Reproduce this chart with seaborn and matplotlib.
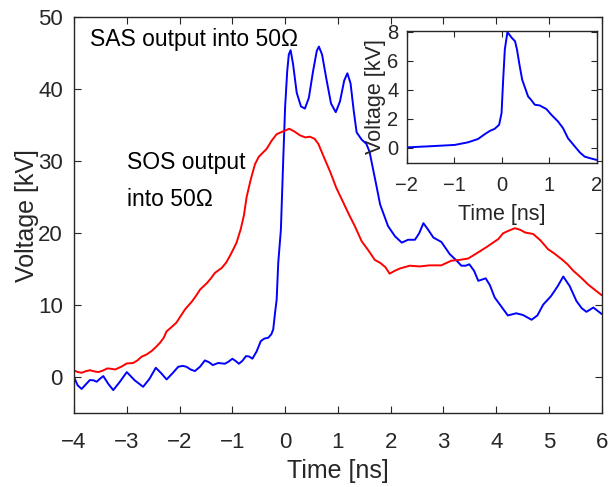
import numpy as np
import pandas as pd
import seaborn as sns
import matplotlib.pyplot as plt

# SAS output (blue), main plot
sas_t = [-4.0, -3.93, -3.855, -3.78, -3.70, -3.63, -3.57, -3.51, -3.445, -3.35, -3.256, -3.13,
         -3.0, -2.85, -2.69, -2.57, -2.45, -2.35, -2.245, -2.13, -2.025, -1.94, -1.87, -1.79,
         -1.71, -1.61, -1.52, -1.44, -1.37, -1.27, -1.14, -1.07, -1.0, -0.94, -0.875, -0.81,
         -0.74, -0.68, -0.62, -0.54, -0.46, -0.39, -0.32, -0.26, -0.225, -0.19, -0.16, -0.13,
         -0.08, -0.035, 0.0, 0.04, 0.07, 0.104, 0.15, 0.22, 0.3, 0.375, 0.45, 0.53, 0.6,
         0.64, 0.7, 0.78, 0.87, 0.96, 1.04, 1.12, 1.18, 1.24, 1.3, 1.355, 1.45, 1.54, 1.6,
         1.73, 1.8, 1.95, 2.08, 2.21, 2.33, 2.46, 2.54, 2.62, 2.7, 2.81, 2.96, 3.12, 3.25,
         3.34, 3.42, 3.49, 3.58, 3.66, 3.8, 3.88, 3.97, 4.1, 4.22, 4.38, 4.51, 4.67, 4.78,
         4.89, 5.04, 5.16, 5.27, 5.39, 5.52, 5.62, 5.71, 5.84, 5.98, 6.0]
sas_v = [0.05, -1.1, -1.6, -1.0, -0.37, -0.4, -0.6, -0.2, 0.19, -0.9, -1.76, -0.6,
         0.74, -0.4, -1.3, -0.2, 1.34, 0.6, -0.28, 0.6, 1.48, 1.6, 1.48, 1.1,
         0.88, 1.5, 2.36, 2.1, 1.71, 2.0, 1.9, 2.2, 2.59, 2.3, 1.9, 2.3,
         2.96, 2.9, 2.6, 3.6, 5.05, 5.4, 5.5, 6.0, 6.67, 9.0, 10.8, 15.9,
         20.5, 30.3, 37.5, 42.5, 44.8, 45.4, 43.5, 39.5, 37.6, 37.3, 38.8, 42.5, 45.3,
         45.9, 44.8, 41.5, 38.0, 36.8, 38.3, 41.2, 42.2, 40.8, 37.0, 34.0, 33.0, 32.4, 31.3,
         26.6, 24.0, 21.0, 19.6, 18.7, 19.1, 19.1, 20.0, 21.4, 20.6, 19.4, 18.8, 17.1, 16.2,
         15.5, 15.5, 15.7, 14.8, 13.4, 13.75, 12.8, 11.1, 9.8, 8.6, 8.9, 8.65, 8.0, 8.6,
         10.1, 11.3, 12.6, 14.0, 12.7, 10.6, 9.6, 9.1, 9.7, 8.9, 8.8]

# SOS output (red), main plot
sos_t = [-4.0, -3.93, -3.855, -3.78, -3.70, -3.62, -3.54, -3.45, -3.37, -3.30, -3.22, -3.1,
         -3.0, -2.88, -2.8, -2.72, -2.62, -2.53, -2.45, -2.37, -2.3, -2.245, -2.18, -2.06,
         -1.98, -1.9, -1.77, -1.69, -1.61, -1.48, -1.4, -1.33, -1.2, -1.12, -1.05, -0.98,
         -0.92, -0.84, -0.78, -0.73, -0.65, -0.57, -0.5, -0.42, -0.35, -0.26, -0.16, -0.05,
         0.08, 0.18, 0.28, 0.38, 0.47, 0.56, 0.63, 0.75, 0.85, 0.97, 1.1, 1.21, 1.32, 1.45,
         1.58, 1.7, 1.8, 1.9, 1.98, 2.08, 2.17, 2.36, 2.55, 2.74, 2.96, 3.15, 3.3, 3.47,
         3.58, 3.69, 3.82, 3.94, 4.04, 4.13, 4.25, 4.35, 4.45, 4.55, 4.7, 4.84, 4.98, 5.1,
         5.24, 5.35, 5.46, 5.6, 5.74, 5.86, 6.0]
sos_v = [0.97, 0.75, 0.65, 0.85, 1.0, 0.85, 0.74, 0.95, 1.25, 1.2, 1.1, 1.5,
         1.94, 2.0, 2.35, 2.87, 3.2, 3.66, 4.2, 4.81, 5.5, 6.4, 6.8, 7.6,
         8.5, 9.4, 10.5, 11.3, 12.2, 13.1, 13.8, 14.5, 15.2, 15.9, 16.8, 17.8,
         18.7, 20.6, 22.5, 25.0, 27.5, 29.6, 30.6, 31.2, 31.7, 32.8, 33.75, 34.1,
         34.5, 34.1, 33.6, 33.3, 33.4, 33.1, 32.4, 30.3, 28.6, 26.3, 24.3, 22.6, 21.0, 18.9,
         17.6, 16.3, 15.9, 15.3, 14.4, 14.8, 15.1, 15.5, 15.4, 15.55, 15.55, 16.2, 16.3, 16.5,
         17.0, 17.5, 18.1, 18.7, 19.2, 20.0, 20.4, 20.7, 20.5, 20.1, 19.9, 19.0, 17.8, 17.2,
         16.4, 15.7, 14.8, 13.9, 12.9, 12.2, 11.4]

# SAS output, inset
ins_t = [-2.0, -1.5, -0.99, -0.71, -0.5, -0.35, -0.25, -0.15, -0.055, -0.004, 0.03, 0.065,
         0.12, 0.21, 0.28, 0.32, 0.37, 0.43, 0.555, 0.62, 0.695, 0.8, 0.94, 1.046, 1.185,
         1.29, 1.395, 1.57, 1.65, 1.746, 1.85, 2.0]
ins_v = [0.02, 0.1, 0.19, 0.37, 0.6, 0.95, 1.16, 1.3, 1.58, 2.39, 4.7, 6.8,
         7.99, 7.6, 7.36, 6.8, 5.8, 4.7, 3.54, 3.3, 2.97, 2.92, 2.67, 2.27, 1.81,
         1.35, 0.65, -0.04, -0.35, -0.62, -0.72, -0.85]

sns.set_style("ticks")
plt.rcParams["font.family"] = ["Liberation Sans", "DejaVu Sans"]
dark = "#262626"
plt.rcParams.update({
    "xtick.direction": "in", "ytick.direction": "in",
    "xtick.color": dark, "ytick.color": dark,
    "axes.edgecolor": dark, "axes.labelcolor": dark,
    "xtick.major.size": 5, "ytick.major.size": 5,
    "axes.linewidth": 1.0,
})

fig = plt.figure(figsize=(6.13, 4.87), dpi=100)
ax = fig.add_axes([0.1207, 0.151, 0.861, 0.814])

sns.lineplot(x=sas_t, y=sas_v, ax=ax, color="#0000ff", lw=1.4, sort=False)
sns.lineplot(x=sos_t, y=sos_v, ax=ax, color="#ff0000", lw=1.4, sort=False)
ax.set_xlim(-4, 6)
ax.set_ylim(-5, 50)
ax.set_xticks(range(-4, 7))
ax.set_yticks([0, 10, 20, 30, 40, 50])
ax.tick_params(labelsize=16, top=True, right=True)
ax.tick_params(axis="x", pad=13)
ax.tick_params(axis="y", pad=8)
ax.set_xlabel("Time [ns]", fontsize=18, labelpad=5)
ax.set_ylabel("Voltage [kV]", fontsize=18, labelpad=-1)

ax.text(-3.70, 46.9, "SAS output into 50\u03a9", fontsize=16.5, va="center", color="black")
ax.text(-3.0, 29.8, "SOS output", fontsize=16.5, va="center", color="black")
ax.text(-3.0, 24.7, "into 50\u03a9", fontsize=16.5, va="center", color="black")

ins = fig.add_axes([0.6635, 0.6647, 0.31, 0.2723])
sns.lineplot(x=ins_t, y=ins_v, ax=ins, color="#0000ff", lw=1.4, sort=False)
ins.set_xlim(-2, 2)
ins.set_ylim(-1.08, 8.09)
ins.set_xticks([-2, -1, 0, 1, 2])
ins.set_yticks([0, 2, 4, 6, 8])
ins.tick_params(labelsize=14.5, top=True, right=True, length=4)
ins.tick_params(axis="x", pad=9.5)
ins.tick_params(axis="y", pad=6)
ins.set_xlabel("Time [ns]", fontsize=15.5, labelpad=6)
ins.set_ylabel("Voltage [kV]", fontsize=15.5, labelpad=1)
ins.patch.set_facecolor("white")

fig.savefig("out.png", dpi=100)
